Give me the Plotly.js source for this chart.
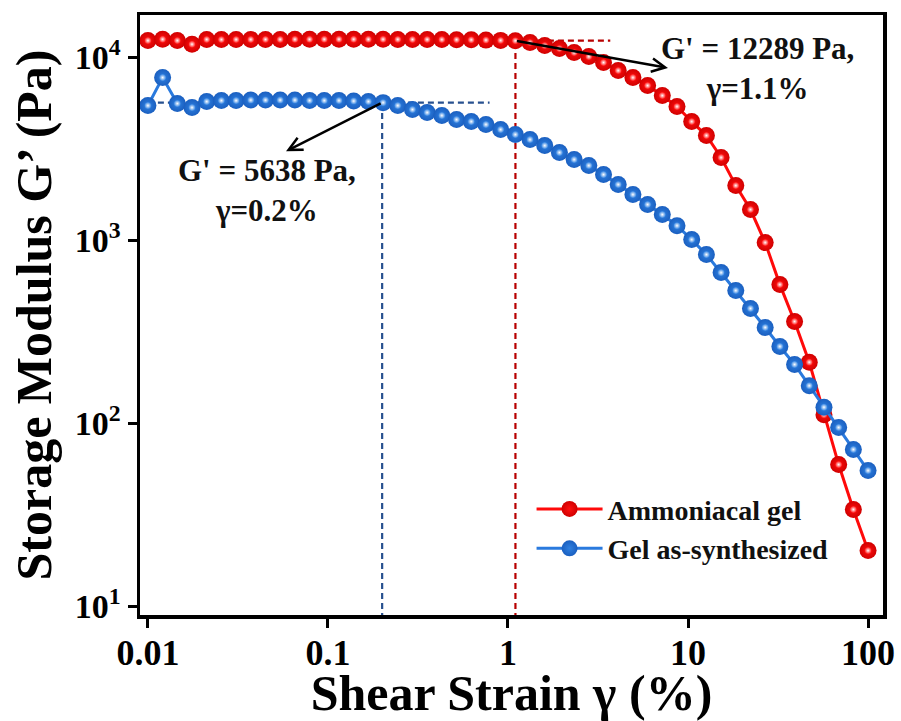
<!DOCTYPE html>
<html>
<head>
<meta charset="utf-8">
<script src="https://cdn.plot.ly/plotly-3.0.1.min.js"></script>
<style>
  html, body { margin: 0; padding: 0; background: #ffffff; }
  #chart { width: 901px; height: 721px; }
</style>
</head>
<body>
<div id="chart"></div>
<script>
// Amplitude sweep: storage modulus vs. shear strain (50 log-spaced strain steps)
const strain = [
  0.01, 0.012068, 0.014563, 0.017575, 0.021210, 0.025595, 0.030888, 0.037276, 0.044984, 0.054287,
  0.065513, 0.079060, 0.095410, 0.11514, 0.13895, 0.16768, 0.20236, 0.24421, 0.29471, 0.35565,
  0.42919, 0.51795, 0.62506, 0.75431, 0.91029, 1.0985, 1.3257, 1.5999, 1.9307, 2.3300,
  2.8118, 3.3932, 4.0949, 4.9417, 5.9636, 7.1969, 8.6851, 10.481, 12.649, 15.264,
  18.421, 22.230, 26.827, 32.375, 39.069, 47.149, 56.899, 68.665, 82.864, 100
];

// G' of the ammoniacal gel (Pa)
const gAmmoniacal = [
  12310, 12510, 12310, 11750, 12480, 12460, 12470, 12480, 12490, 12490,
  12500, 12500, 12510, 12510, 12510, 12500, 12500, 12490, 12480, 12470,
  12460, 12440, 12420, 12380, 12340, 12289, 12000, 11560, 11130, 10580,
  10060, 9335, 8440, 7727, 6986, 6160, 5366, 4442, 3726, 2825,
  1985, 1468, 969, 571, 359, 215, 111, 59.3, 33.7, 20.1
];

// G' of the as-synthesized gel (Pa)
const gSynthesized = [
  5433, 7727, 5572, 5297, 5714, 5785, 5785, 5821, 5821, 5821,
  5821, 5785, 5785, 5785, 5750, 5714, 5638, 5433, 5166, 4976,
  4793, 4553, 4442, 4279, 4017, 3772, 3542, 3284, 3008, 2754,
  2554, 2279, 2011, 1773, 1564, 1378, 1199, 1006, 833, 664,
  530, 423, 333, 262, 209, 160, 122, 94.6, 71.7, 55.0
];

const seriesNames = ['Ammoniacal gel', 'Gel as-synthesized'];

// Linear-viscoelastic limits marked on the chart
const limitAmmoniacal = { strain: 1.1, modulus: 12289, dashEnd: 3.7 };
const limitSynthesized = { strain: 0.2, modulus: 5638, dashEnd: 0.79 };

const xTicks = [0.01, 0.1, 1, 10, 100];
const xTickText = ['0.01', '0.1', '1', '10', '100'];
const yTicks = [10, 100, 1000, 10000];
const yTickText = ['10<sup>1</sup>', '10<sup>2</sup>', '10<sup>3</sup>', '10<sup>4</sup>'];

const SERIF = '"Liberation Serif", "Times New Roman", Times, serif';
const RED = '#ff1010', RED_EDGE = '#d00000', RED_LINE = '#ff0a0a', RED_DASH = '#b80000';
const BLUE = '#2f80e0', BLUE_EDGE = '#1a5fc0', BLUE_LINE = '#2a7ade', BLUE_DASH = '#27508f';

function curve(y, name, line, core, edge) {
  return {
    x: strain, y: y, name: name, type: 'scatter', mode: 'lines+markers',
    line: { color: line, width: 3 },
    marker: { size: 17, color: edge, gradient: { type: 'radial', color: core }, line: { width: 0 } },
    showlegend: true
  };
}
function shine(y, core) {
  return {
    x: strain, y: y, type: 'scatter', mode: 'markers', hoverinfo: 'skip', showlegend: false,
    marker: { size: 7, color: core, gradient: { type: 'radial', color: '#ffffff' }, line: { width: 0 } }
  };
}
function dashed(xs, ys, color) {
  return {
    x: xs, y: ys, type: 'scatter', mode: 'lines', hoverinfo: 'skip', showlegend: false,
    line: { color: color, width: 2.2, dash: '6px,4px' }
  };
}

const traces = [
  // reference lines at the limits of the linear region
  dashed([0.001, limitAmmoniacal.dashEnd], [limitAmmoniacal.modulus, limitAmmoniacal.modulus], RED_DASH),
  dashed([limitAmmoniacal.strain, limitAmmoniacal.strain], [1, limitAmmoniacal.modulus], RED_DASH),
  dashed([0.001, limitSynthesized.dashEnd], [limitSynthesized.modulus, limitSynthesized.modulus], BLUE_DASH),
  dashed([limitSynthesized.strain, limitSynthesized.strain], [1, limitSynthesized.modulus], BLUE_DASH),
  curve(gAmmoniacal, seriesNames[0], RED_LINE, RED, RED_EDGE),
  shine(gAmmoniacal, RED),
  curve(gSynthesized, seriesNames[1], BLUE_LINE, BLUE, BLUE_EDGE),
  shine(gSynthesized, BLUE)
];

const lg = Math.log10;
const labelFont = { family: SERIF, size: 31, color: '#111111', weight: 'bold' };

function arrow(head, tail) {
  return {
    xref: 'x', yref: 'y', axref: 'x', ayref: 'y',
    x: lg(head[0]), y: lg(head[1]), ax: lg(tail[0]), ay: lg(tail[1]),
    text: '', showarrow: true, arrowhead: 5, arrowsize: 1.1, arrowwidth: 2.4,
    arrowcolor: '#000000', standoff: 0, startstandoff: 0
  };
}
function label(pos, text) {
  return {
    xref: 'x', yref: 'y', x: lg(pos[0]), y: lg(pos[1]), text: text, showarrow: false,
    xanchor: 'center', yanchor: 'middle', align: 'center', font: labelFont
  };
}

const layout = {
  width: 901, height: 721,
  margin: { l: 140, r: 18, t: 15, b: 106 },
  paper_bgcolor: '#ffffff', plot_bgcolor: '#ffffff',
  font: { family: SERIF, color: '#000000' },
  showlegend: true,
  legend: {
    x: 0.527, y: 0.218, xanchor: 'left', yanchor: 'top',
    bgcolor: 'rgba(0,0,0,0)', borderwidth: 0,
    font: { family: SERIF, size: 28, color: '#111111', weight: 'bold' },
    itemwidth: 66, tracegroupgap: 0
  },
  xaxis: {
    type: 'log', range: [-2.044, 2.083],
    tickmode: 'array', tickvals: xTicks, ticktext: xTickText,
    ticks: 'outside', ticklen: 9, tickwidth: 3, tickcolor: '#000000',
    ticklabelstandoff: -6,
    showgrid: false, zeroline: false,
    showline: true, linewidth: 3.5, linecolor: '#000000', mirror: true,
    tickfont: { family: SERIF, size: 36, color: '#000000', weight: 'bold' },
    title: { text: 'Shear Strain γ (%)', font: { family: SERIF, size: 50, color: '#000000', weight: 'bold' }, standoff: 4 }
  },
  yaxis: {
    type: 'log', range: [0.951, 4.23],
    tickmode: 'array', tickvals: yTicks, ticktext: yTickText,
    ticks: 'outside', ticklen: 9, tickwidth: 3, tickcolor: '#000000',
    showgrid: false, zeroline: false,
    showline: true, linewidth: 3.5, linecolor: '#000000', mirror: true,
    tickfont: { family: SERIF, size: 34, color: '#000000', weight: 'bold' },
    title: { text: 'Storage Modulus G’ (Pa)', font: { family: SERIF, size: 50, color: '#000000', weight: 'bold' }, standoff: 8 }
  },
  annotations: [
    arrow([7.74, 8720], [limitAmmoniacal.strain, limitAmmoniacal.modulus]),
    label([24.2, 8710], "G' = 12289 Pa,<br>γ=1.1%"),
    arrow([0.0585, 3060], [limitSynthesized.strain, limitSynthesized.modulus]),
    label([0.0458, 1862], "G' = 5638 Pa,<br>γ=0.2%")
  ]
};

Plotly.newPlot('chart', traces, layout, { displayModeBar: false, staticPlot: true });
</script>
</body>
</html>
